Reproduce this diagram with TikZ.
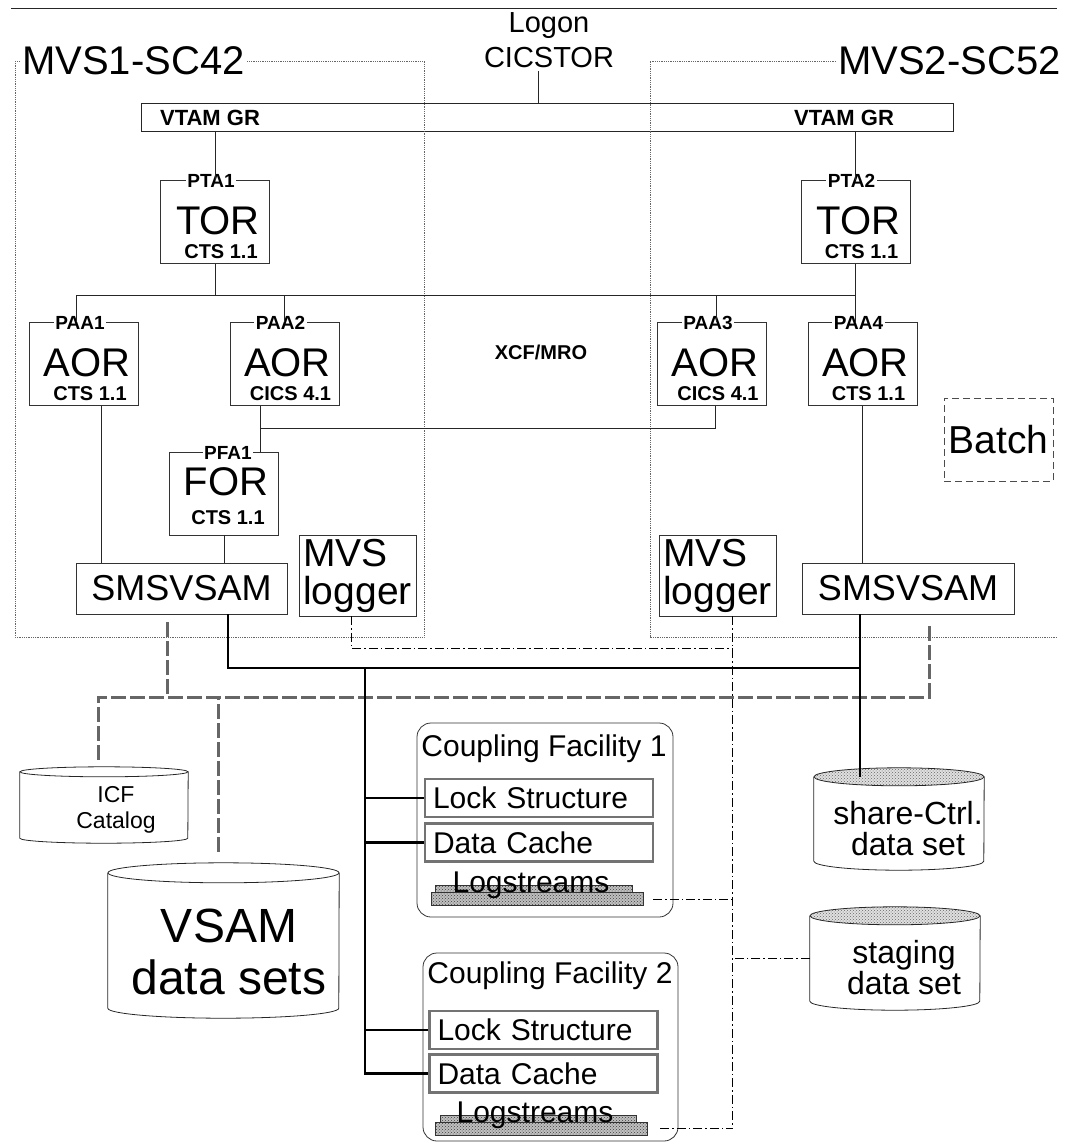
\documentclass[tikz,border=0pt]{standalone}
\usepackage{fontspec}
\setmainfont{Liberation Sans}
\usepackage{tikz}
\usetikzlibrary{calc, positioning, patterns}
\newcommand{\fsz}[2]{\fontsize{#1}{#2}\selectfont}

\begin{document}
\begin{tikzpicture}[x=1pt, y=-1pt,
  thinl/.style={line width=0.8pt, black!85},
  frame/.style={line width=0.8pt, black!60, densely dotted},
  regbox/.style={draw=black!80, line width=0.8pt, minimum width=109pt, minimum height=83pt, inner sep=0pt},
  tag/.style={fill=white, inner sep=1.5pt, font=\bfseries\fsz{19}{21}},
  role/.style={font=\fsz{40}{44}},
  ver/.style={font=\bfseries\fsz{20}{22}},
  plainbox/.style={draw=black!80, line width=0.8pt, inner sep=3pt},
  cfline/.style={line width=2.6pt},
  hatch/.style={line width=3pt, black!60, dash pattern=on 15pt off 4pt},
  logline/.style={line width=0.7pt, dash pattern=on 9pt off 3pt on 1.5pt off 3pt},
  cfbox/.style={draw=black!80, line width=0.8pt, rounded corners=14pt},
  cfont/.style={font=\fsz{30}{33}},
  struct/.style={draw=black!55, line width=2.2pt, minimum width=228pt, minimum height=38pt,
    inner xsep=8pt, inner ysep=0pt, text width=212pt, align=left, font=\fsz{30}{33}},
  lsbar/.style={draw=black!80, line width=0.6pt, preaction={fill=black!25}, pattern=crosshatch dots, pattern color=black!75, inner sep=0pt},
  cyl/.style={inner sep=0pt},
  cyltop/.style={thinl, preaction={fill=black!12}, pattern=crosshatch dots, pattern color=black!60}]
  \useasboundingbox (0,0) rectangle (1077,1143);

  % logon and VTAM generic resource
  \draw[thinl] (11,8) -- (1057,8);
  \node[font=\fsz{29}{35}, align=center] (logon) at (549,40) {Logon\\CICSTOR};
  \node[draw=black!85, line width=0.8pt, minimum width=812pt, minimum height=28pt] (vtam) at (547,117) {};
  \node[font=\bfseries\fsz{22}{24}] (vtaml) at (210,118) {VTAM GR};
  \node[font=\bfseries\fsz{22}{24}] (vtamr) at (844,118) {VTAM GR};
  \draw[thinl] ([xshift=-11pt]logon.south) -- ([xshift=-11pt]logon.south |- vtam.north);

  % the two MVS images
  \draw[frame] (15,61) rectangle (424,637);
  \node[fill=white, inner sep=2pt, anchor=west, font=\fsz{40}{44}] (mvs1) at (20,61) {MVS1-SC42};
  \node[inner sep=2pt, anchor=west, font=\fsz{40}{44}] (mvs2) at (836,61) {MVS2-SC52};
  \draw[frame] (mvs2.west) -| (650,637) -- (1057,637);

  % CICS regions
  \foreach \nm/\x/\y/\tg/\kd/\vr in {tor1/215/222/PTA1/TOR/CTS 1.1, tor2/855.5/222/PTA2/TOR/CTS 1.1,
      paa1/84/364/PAA1/AOR/CTS 1.1, paa2/284.5/364/PAA2/AOR/CICS 4.1,
      paa3/712/364/PAA3/AOR/CICS 4.1, paa4/862.5/364/PAA4/AOR/CTS 1.1} {
    \node[regbox] (\nm) at (\x,\y) {};
    \node[tag] (\nm tag) at (\x-4,\y-41) {\tg};
    \node[role] (\nm role) at (\x+3,\y-1) {\kd};
    \node[ver] (\nm ver) at (\x+6,\y+30) {\vr};
  }
  \node[regbox] (pfa1) at (224,493.5) {};
  \node[tag] (pfa1tag) at (228,453) {PFA1};
  \node[role] (pfa1role) at (226,482) {FOR};
  \node[ver] (pfa1ver) at (228,518) {CTS 1.1};
  \node[font=\bfseries\fsz{20}{22}] (xcf) at (541,352) {XCF/MRO};
  \node[draw=black!70, dash pattern=on 7pt off 4pt, line width=0.8pt, minimum width=109pt, minimum height=83pt, font=\fsz{39}{42}] (batch) at (998.5,439.5) {Batch};

  \node[plainbox, minimum width=211pt, minimum height=51pt, font=\fsz{36}{40}] (sms1) at (181.5,588.5) {SMSVSAM};
  \node[plainbox, minimum width=212pt, minimum height=51pt, font=\fsz{36}{40}] (sms2) at (908,588.5) {SMSVSAM};
  \node[plainbox, minimum width=117pt, minimum height=81pt, align=left, font=\fsz{39}{38}] (lg1) at (357.5,575.5) {MVS\\logger};
  \node[plainbox, minimum width=117pt, minimum height=81pt, align=left, font=\fsz{39}{38}] (lg2) at (717.5,575.5) {MVS\\logger};

  % XCF/MRO links
  \coordinate (xbus) at (0,295);
  \coordinate (mro) at (260,428);
  \draw[thinl] (vtam.south -| tor1.north) -- (tor1.north);
  \draw[thinl] (vtam.south -| tor2.north) -- (tor2.north);
  \draw[thinl] ([xshift=-8pt]paa1.north) |- (tor2.south |- xbus);
  \draw[thinl] (tor1.south) -- (tor1.south |- xbus);
  \draw[thinl] (paa2.north) -- (paa2.north |- xbus);
  \draw[thinl] ([xshift=4pt]paa3.north) -- ([xshift=4pt]paa3.north |- xbus);
  \draw[thinl] (tor2.south) -- (tor2.south |- paa4.north);
  \draw[thinl] (paa2.south -| mro) -- (mro) -| ([xshift=3pt]paa3.south);
  \draw[thinl] (mro) -- (mro |- pfa1.north);
  \draw[thinl] ([xshift=17pt]paa1.south) -- ([xshift=17pt]paa1.south |- sms1.north);
  \draw[thinl] (pfa1.south) -- (pfa1.south |- sms1.north);
  \draw[thinl] (paa4.south) -- (paa4.south |- sms2.north);

  % data sets
  \node[cyl, minimum width=168pt, minimum height=66pt] (icf) at (104,805) {};
  \draw[thinl] (icf.north west) -- (icf.south west) arc[start angle=180, end angle=360, x radius=84pt, y radius=5pt] -- (icf.north east);
  \draw[thinl] (icf.north) ellipse[x radius=84pt, y radius=5pt];
  \node[font=\fsz{23}{26}, align=center] (icftxt) at (116,810) {ICF\\Catalog};

  \node[cyl, minimum width=231pt, minimum height=135pt] (vsam) at (223.5,940.5) {};
  \draw[thinl] (vsam.north west) -- (vsam.south west) arc[start angle=180, end angle=360, x radius=115.5pt, y radius=10pt] -- (vsam.north east);
  \draw[thinl] (vsam.north) ellipse[x radius=115.5pt, y radius=10pt];
  \node[font=\fsz{48}{52}, align=center] (vsamtxt) at (229,952) {VSAM\\data sets};

  \node[cyl, minimum width=170pt, minimum height=84pt] (shr) at (899,819) {};
  \draw[thinl] (shr.north west) -- (shr.south west) arc[start angle=180, end angle=360, x radius=85pt, y radius=9pt] -- (shr.north east);
  \draw[cyltop] (shr.north) ellipse[x radius=85pt, y radius=9pt];
  \node[font=\fsz{32}{31}, align=center] (shrtxt) at (908,829) {share-Ctrl.\\data set};

  \node[cyl, minimum width=170pt, minimum height=85pt] (stg) at (895,958.5) {};
  \draw[thinl] (stg.north west) -- (stg.south west) arc[start angle=180, end angle=360, x radius=85pt, y radius=9pt] -- (stg.north east);
  \draw[cyltop] (stg.north) ellipse[x radius=85pt, y radius=9pt];
  \node[font=\fsz{32}{31}, align=center] (stgtxt) at (904,968) {staging\\data set};

  % coupling facilities
  \node[cfbox, minimum width=256pt, minimum height=194pt] (cf1) at (545,820) {};
  \node[cfont, anchor=base] (cf1t) at (544,756) {Coupling Facility 1};
  \node[struct] (lock1) at (539,798) {Lock Structure};
  \node[struct] (dc1) at (539,842.5) {Data Cache};
  \node[lsbar, minimum width=197pt, minimum height=8pt] (ls1u) at (533.5,889) {};
  \node[lsbar, minimum width=212pt, minimum height=13pt] (ls1) at (537,899) {};
  \node[cfont, anchor=base] (ls1t) at (531,892) {Logstreams};

  \node[cfbox, minimum width=255pt, minimum height=188pt] (cf2) at (550.5,1047) {};
  \node[cfont, anchor=base] (cf2t) at (550,983) {Coupling Facility 2};
  \node[struct] (lock2) at (543.5,1030) {Lock Structure};
  \node[struct] (dc2) at (543.5,1073.5) {Data Cache};
  \node[lsbar, minimum width=196pt, minimum height=8pt] (ls2u) at (538,1119) {};
  \node[lsbar, minimum width=212pt, minimum height=13pt] (ls2) at (541,1128.5) {};
  \node[cfont, anchor=base] (ls2t) at (535,1122) {Logstreams};

  % catalog and data set access
  \coordinate (hbus) at (0,697);
  \draw[hatch] ([xshift=-14.5pt,yshift=-8pt]sms1.south) -- ([xshift=-14.5pt]sms1.south |- hbus);
  \draw[hatch] ([xshift=-6pt,yshift=12pt]icf.north) |- ([xshift=21pt]sms2.south |- hbus) -- ([xshift=21pt,yshift=-9pt]sms2.south);
  \draw[hatch] ([xshift=-5.5pt,yshift=21pt]vsam.north) -- ([xshift=-5.5pt]vsam.north |- hbus);

  % MVS logger
  \coordinate (logx) at (732,648);
  \draw[logline] ([xshift=-6.5pt]lg1.south) |- (logx);
  \draw[logline] ([xshift=14.5pt]lg2.south) -- ([xshift=14.5pt]lg2.south |- ls2.east);
  \draw[logline] ([xshift=10pt]ls1.east) -- (ls1.east -| logx);
  \draw[logline] ([xshift=13pt]ls2.east) -- (ls2.east -| logx);
  \draw[logline] (stg.west) -- (stg.west -| logx);

  % coupling facility links
  \coordinate (cfj) at (365,668);
  \draw[cfline] ([xshift=46.5pt]sms1.south) |- ([xshift=-48pt]sms2.south |- cfj);
  \draw[cfline] ([xshift=-48pt]sms2.south) -- ([xshift=-48pt]sms2.south |- shr.north);
  \draw[cfline] (cfj) |- (dc2.west);
  \foreach \s in {lock1, dc1, lock2}
    \draw[cfline] (cfj |- \s.west) -- (\s.west);
\end{tikzpicture}
\end{document}
